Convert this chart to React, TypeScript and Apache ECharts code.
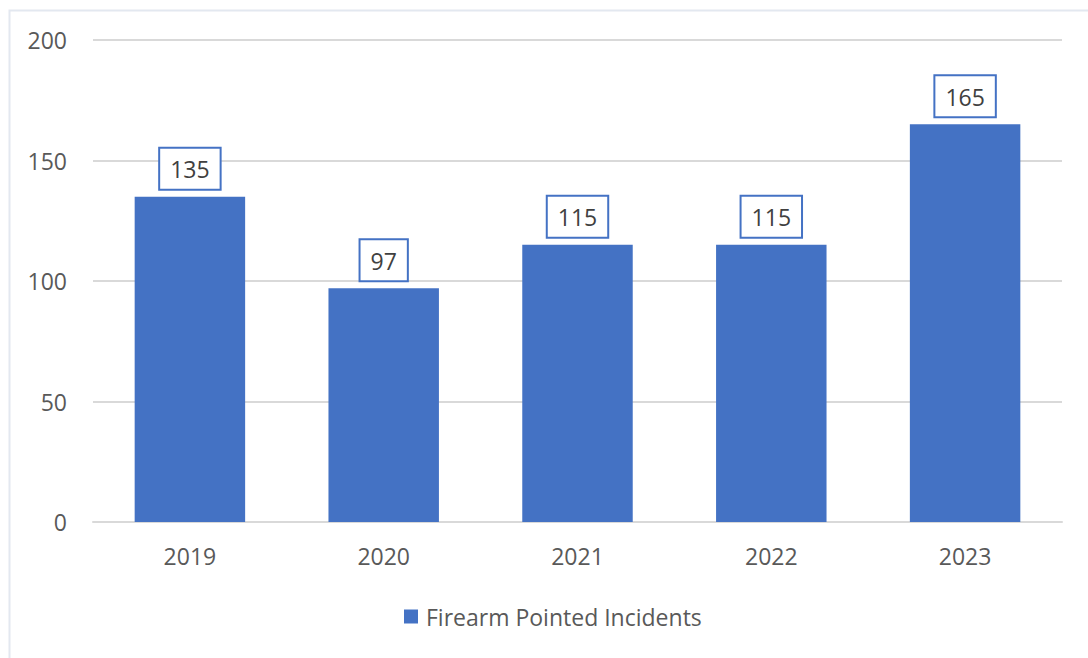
import React, { useEffect, useRef } from "react";
import * as echarts from "echarts";

const categories = ["2019", "2020", "2021", "2022", "2023"];
const values = [135, 97, 115, 115, 165];
const seriesName = "Firearm Pointed Incidents";

export default function App() {
  const ref = useRef<HTMLDivElement>(null);
  useEffect(() => {
    document.body.style.margin = "0";
    const chart = echarts.init(ref.current!, null, { renderer: "svg" });
    const font = "'Open Sans', 'Noto Sans', sans-serif";
    chart.setOption({
      animation: false,
      backgroundColor: "#ffffff",
      textStyle: { fontFamily: font },
      graphic: [
        {
          type: "rect",
          left: 7,
          top: 8,
          shape: { width: 1100, height: 700 },
          style: { fill: "none", stroke: "#e3e8f0", lineWidth: 2 },
          silent: true,
        },
      ],
      grid: { left: 93, right: 26, top: 40, bottom: 136, containLabel: false },
      legend: {
        show: true,
        bottom: 30,
        left: 404,
        icon: "rect",
        itemWidth: 14,
        itemHeight: 14,
        itemGap: 10,
        padding: 0,
        textStyle: { fontSize: 23, color: "#595959", fontFamily: font, padding: [0, 0, 0, 3] },
        data: [seriesName],
      },
      xAxis: {
        type: "category",
        data: categories,
        axisLine: { show: true, lineStyle: { color: "#d9d9d9", width: 2 } },
        axisTick: { show: false },
        axisLabel: { fontSize: 23, color: "#595959", margin: 22, fontFamily: font },
      },
      yAxis: {
        type: "value",
        min: 0,
        max: 200,
        interval: 50,
        axisLine: { show: false },
        axisTick: { show: false },
        splitLine: { lineStyle: { color: "#d9d9d9", width: 2 } },
        axisLabel: { fontSize: 23, color: "#595959", margin: 26, fontFamily: font },
      },
      series: [
        {
          name: seriesName,
          type: "bar",
          data: values,
          barWidth: "57%",
          itemStyle: { color: "#4472C4" },
          label: {
            show: true,
            position: "top",
            distance: 8,
            fontSize: 23,
            lineHeight: 25,
            color: "#404040",
            fontFamily: font,
            backgroundColor: "#ffffff",
            borderColor: "#4472C4",
            borderWidth: 2,
            padding: [8, 10, 7, 10],
          },
        },
      ],
    });
    return () => chart.dispose();
  }, []);
  return <div ref={ref} style={{ width: 1088, height: 658 }} />;
}
